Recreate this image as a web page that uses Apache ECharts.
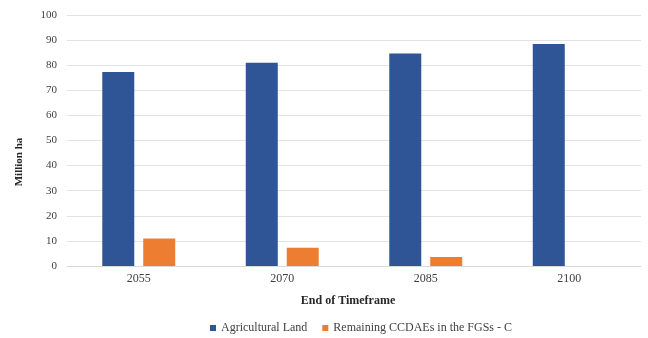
<!DOCTYPE html>
<html>
<head>
<meta charset="utf-8">
<script src="https://cdn.jsdelivr.net/npm/echarts@6/dist/echarts.min.js"></script>
<style>
  html, body { margin: 0; padding: 0; background: #ffffff; }
  #chart { width: 648px; height: 338px; }
</style>
</head>
<body>
<div id="chart"></div>
<script>
// Timeframe end years
const categories = ['2055', '2070', '2085', '2100'];
// Million ha per timeframe
const agriculturalLand = [77.3, 81.0, 84.7, 88.4];
const remainingCCDAEs = [11.0, 7.3, 3.6, 0];
const seriesNames = ['Agricultural Land', 'Remaining CCDAEs in the FGSs - C'];
const yTitle = 'Million ha';
const xTitle = 'End of Timeframe';

const serif = '"Liberation Serif", "DejaVu Serif", serif';

const chart = echarts.init(document.getElementById('chart'));
chart.setOption({
  animation: false,
  backgroundColor: '#ffffff',
  grid: { left: 67, right: 7, top: 15, bottom: 72, containLabel: false },
  legend: {
    top: 317,
    left: 205,
    itemWidth: 6,
    itemHeight: 6,
    itemGap: 15,
    icon: 'rect',
    textStyle: { fontFamily: serif, fontSize: 12, color: '#404040' },
    data: seriesNames
  },
  graphic: [{
    type: 'text',
    rotation: Math.PI / 2,
    x: 19,
    y: 162,
    style: {
      text: yTitle,
      x: 0,
      y: 0,
      align: 'center',
      verticalAlign: 'middle',
      font: 'bold 11px ' + serif,
      fill: '#262626'
    }
  }],
  xAxis: {
    type: 'category',
    data: categories,
    name: xTitle,
    nameLocation: 'middle',
    nameGap: 29,
    nameTextStyle: {
      fontFamily: serif, fontSize: 12, fontWeight: 'bold', color: '#262626',
      padding: [0, 12, 0, 0]
    },
    axisLine: { lineStyle: { color: '#d9d9d9' } },
    axisTick: { show: false },
    axisLabel: { fontFamily: serif, fontSize: 12, color: '#404040', margin: 7 }
  },
  yAxis: {
    type: 'value',
    min: 0,
    max: 100,
    interval: 10,
    axisLine: { show: false },
    axisTick: { show: false },
    axisLabel: { fontFamily: serif, fontSize: 11, color: '#404040', margin: 10 },
    splitLine: { lineStyle: { color: '#e3e3e3' } }
  },
  series: [
    {
      name: seriesNames[0],
      type: 'bar',
      data: agriculturalLand,
      barWidth: 32,
      barGap: '28%',
      itemStyle: { color: '#2f5597' }
    },
    {
      name: seriesNames[1],
      type: 'bar',
      data: remainingCCDAEs,
      barWidth: 32,
      itemStyle: { color: '#ed7d31' }
    }
  ]
});
</script>
</body>
</html>
